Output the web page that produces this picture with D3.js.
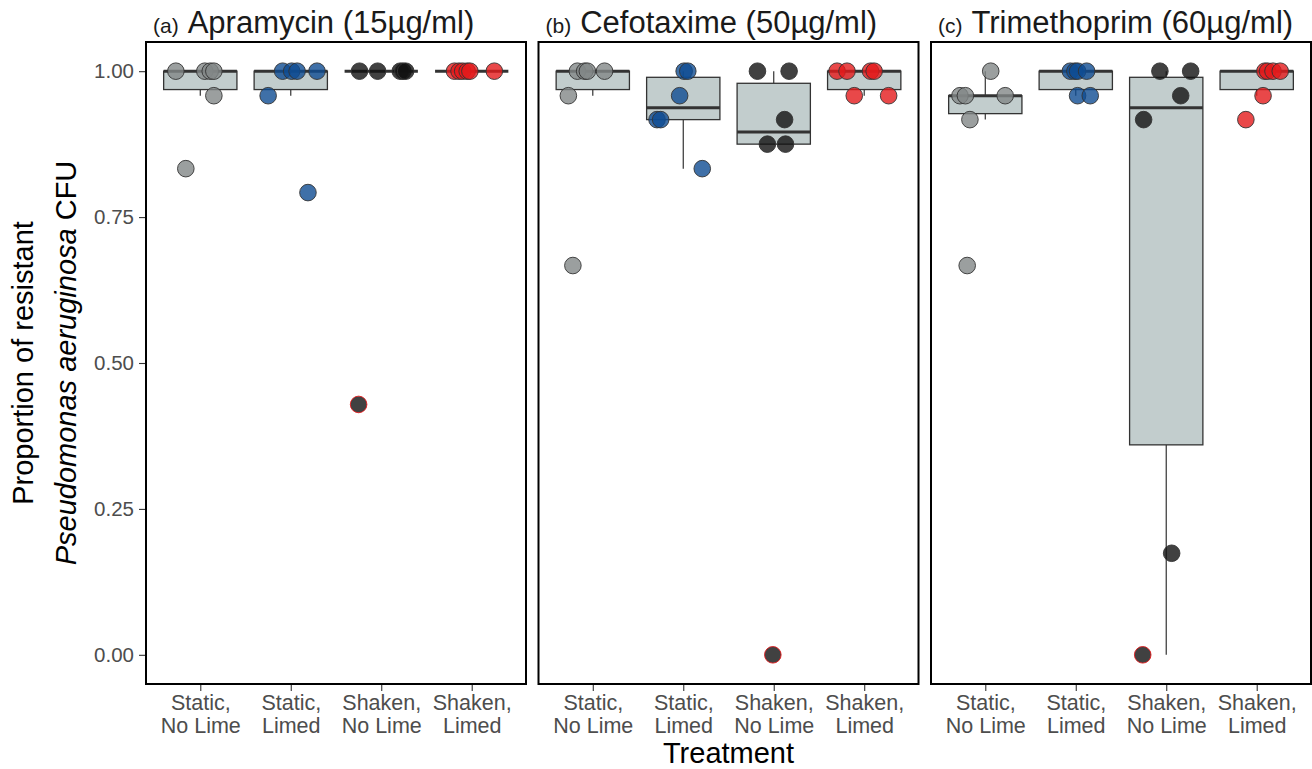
<!DOCTYPE html>
<html>
<head>
<meta charset="utf-8">
<script src="https://cdn.jsdelivr.net/npm/d3@7"></script>
<style>
  body { margin: 0; background: #fff; }
  text { font-family: Arial, "Liberation Sans", sans-serif; }
</style>
</head>
<body>
<div class="container"></div>
<script>
const w = 1312;
const h = 769;

const panelTags = ["(a)", "(b)", "(c)"];
const drugs = ["Apramycin (15µg/ml)", "Cefotaxime (50µg/ml)", "Trimethoprim (60µg/ml)"];
const treatments = ["Static, No Lime", "Static, Limed", "Shaken, No Lime", "Shaken, Limed"];
const treatmentLines = [["Static,", "No Lime"], ["Static,", "Limed"], ["Shaken,", "No Lime"], ["Shaken,", "Limed"]];
const yTicks = [0, 0.25, 0.5, 0.75, 1];

// proportion of resistant CFU per replicate, one list per treatment
const apramycin = [
  [1, 1, 1, 1, 0.958, 0.833],
  [1, 1, 1, 1, 0.958, 0.792],
  [1, 1, 1, 1, 1, 0.429],
  [1, 1, 1, 1, 1, 1]
];
const cefotaxime = [
  [1, 1, 1, 1, 0.958, 0.667],
  [1, 1, 0.958, 0.917, 0.917, 0.833],
  [1, 1, 0.917, 0.875, 0.875, 0],
  [1, 1, 1, 1, 0.958, 0.958]
];
const trimethoprim = [
  [1, 0.958, 0.958, 0.958, 0.917, 0.667],
  [1, 1, 1, 1, 0.958, 0.958],
  [1, 1, 0.958, 0.917, 0.174, 0],
  [1, 1, 1, 1, 0.958, 0.917]
];

// horizontal jitter (fraction of a category step), as drawn
const apramycinJitter = [
  [-0.27, 0.05, 0.11, 0.15, 0.15, -0.16],
  [-0.09, 0.01, 0.07, 0.29, -0.25, 0.19],
  [-0.24, -0.04, 0.21, 0.24, 0.27, -0.25],
  [-0.19, -0.14, -0.10, -0.05, -0.02, 0.25]
];
const cefotaximeJitter = [
  [-0.17, -0.09, -0.06, 0.13, -0.27, -0.22],
  [0.01, 0.05, -0.04, -0.29, -0.25, 0.21],
  [-0.18, 0.17, 0.12, -0.07, 0.13, -0.01],
  [-0.30, -0.19, 0.07, 0.11, -0.11, 0.27]
];
const trimethoprimJitter = [
  [0.06, -0.28, -0.22, 0.22, -0.17, -0.20],
  [-0.06, -0.01, 0.02, 0.12, 0.02, 0.16],
  [-0.07, 0.27, 0.16, -0.25, 0.06, -0.26],
  [0.09, 0.12, 0.18, 0.26, 0.07, -0.12]
];

// points that show a red rim: [panel, treatment, replicate]
const redRim = [[0, 2, 5], [1, 2, 5], [2, 2, 5]];

const values = [apramycin, cefotaxime, trimethoprim];
const jitters = [apramycinJitter, cefotaximeJitter, trimethoprimJitter];

const colors = ["#828787", "#0f4c92", "#111111", "#e31a1c"];

const margin = { top: 42, bottom: 85, left: 146, right: 1 };
const gap = 12.5;
const panelW = (w - margin.left - margin.right - 2 * gap) / 3;
const panelH = h - margin.top - margin.bottom;

const svg = d3.select('.container').append('svg')
    .attr('width', w)
    .attr('height', h);

const x = d3.scalePoint()
    .domain(treatments)
    .range([0, panelW])
    .padding(0.6);

const y = d3.scaleLinear()
    .domain([-0.05, 1.05])
    .range([panelH, 0]);

const boxW = x.step() * 0.81;

function boxStats(arr) {
  const s = arr.slice().sort(d3.ascending);
  const q1 = d3.quantile(s, 0.25);
  const med = d3.quantile(s, 0.5);
  const q3 = d3.quantile(s, 0.75);
  const iqr = q3 - q1;
  const lo = d3.min(s.filter(v => v >= q1 - 1.5 * iqr));
  const hi = d3.max(s.filter(v => v <= q3 + 1.5 * iqr));
  return { q1, med, q3, lo, hi };
}

values.forEach((panelVals, p) => {
  const g = svg.append('g')
      .attr('transform', `translate(${margin.left + p * (panelW + gap)}, ${margin.top})`);

  // title
  const title = svg.append('text')
      .attr('x', margin.left + p * (panelW + gap) + 7)
      .attr('y', 33)
      .style('fill', '#1a1a1a');
  title.append('tspan').style('font-size', '21px').text(panelTags[p]);
  title.append('tspan').attr('dx', 9).style('font-size', '31px').text(drugs[p]);

  // y axis only on first panel
  if (p === 0) {
    const yAxis = g.append('g')
        .call(d3.axisLeft(y).tickValues(yTicks).tickFormat(d3.format('.2f')).tickSize(7).tickPadding(5));
    yAxis.select('.domain').remove();
    yAxis.selectAll('line').style('stroke', '#333').style('stroke-width', 1.1);
    yAxis.selectAll('text').style('font-size', '20.5px').style('fill', '#4d4d4d');
  }

  const xAxis = g.append('g')
      .attr('transform', `translate(0, ${panelH})`)
      .call(d3.axisBottom(x).tickSize(7).tickFormat(''));
  xAxis.select('.domain').remove();
  xAxis.selectAll('line').style('stroke', '#333').style('stroke-width', 1.1);
  xAxis.selectAll('.tick').each(function(d, i) {
    const t = d3.select(this).append('text')
        .attr('text-anchor', 'middle')
        .style('font-size', '21.5px')
        .style('fill', '#4d4d4d');
    t.append('tspan').attr('x', 0).attr('y', 26).text(treatmentLines[i][0]);
    t.append('tspan').attr('x', 0).attr('y', 49).text(treatmentLines[i][1]);
  });

  // boxes
  panelVals.forEach((vals, i) => {
    const st = boxStats(vals);
    const cx = x(treatments[i]);
    const b = g.append('g');
    b.append('line')
        .attr('x1', cx).attr('x2', cx)
        .attr('y1', y(st.q3)).attr('y2', y(st.hi))
        .style('stroke', '#333').style('stroke-width', 1.2);
    b.append('line')
        .attr('x1', cx).attr('x2', cx)
        .attr('y1', y(st.q1)).attr('y2', y(st.lo))
        .style('stroke', '#333').style('stroke-width', 1.2);
    b.append('rect')
        .attr('x', cx - boxW / 2)
        .attr('width', boxW)
        .attr('y', y(st.q3))
        .attr('height', y(st.q1) - y(st.q3))
        .style('fill', '#c2cdcd')
        .style('stroke', '#333')
        .style('stroke-width', 1.3);
    b.append('line')
        .attr('x1', cx - boxW / 2).attr('x2', cx + boxW / 2)
        .attr('y1', y(st.med)).attr('y2', y(st.med))
        .style('stroke', '#333').style('stroke-width', 3);
  });

  // jittered points
  panelVals.forEach((vals, i) => {
    const pts = vals.map((v, k) => ({ v, k, j: jitters[p][i][k] }));
    g.selectAll(null)
        .data(pts)
        .enter()
        .append('circle')
          .attr('cx', d => x(treatments[i]) + d.j * x.step())
          .attr('cy', d => y(d.v))
          .attr('r', 8.3)
          .style('fill', colors[i])
          .style('fill-opacity', 0.8)
          .style('stroke', d => redRim.some(r => r[0] === p && r[1] === i && r[2] === d.k) ? '#e31a1c' : '#333')
          .style('stroke-width', 0.9);
  });

  // frame
  g.append('rect')
      .attr('width', panelW)
      .attr('height', panelH)
      .style('fill', 'none')
      .style('stroke', '#000')
      .style('stroke-width', 2);
});

// axis titles
svg.append('text')
    .attr('transform', `translate(33, ${margin.top + panelH / 2}) rotate(-90)`)
    .attr('text-anchor', 'middle')
    .style('font-size', '29px')
    .style('fill', '#000')
    .text('Proportion of resistant');

const yTitle2 = svg.append('text')
    .attr('transform', `translate(76, ${margin.top + panelH / 2}) rotate(-90)`)
    .attr('text-anchor', 'middle')
    .style('font-size', '29px')
    .style('fill', '#000');
yTitle2.append('tspan').style('font-style', 'italic').text('Pseudomonas aeruginosa');
yTitle2.append('tspan').text(' CFU');

svg.append('text')
    .attr('x', margin.left + (w - margin.left - margin.right) / 2)
    .attr('y', 763)
    .attr('text-anchor', 'middle')
    .style('font-size', '29px')
    .style('fill', '#000')
    .text('Treatment');
</script>
</body>
</html>
